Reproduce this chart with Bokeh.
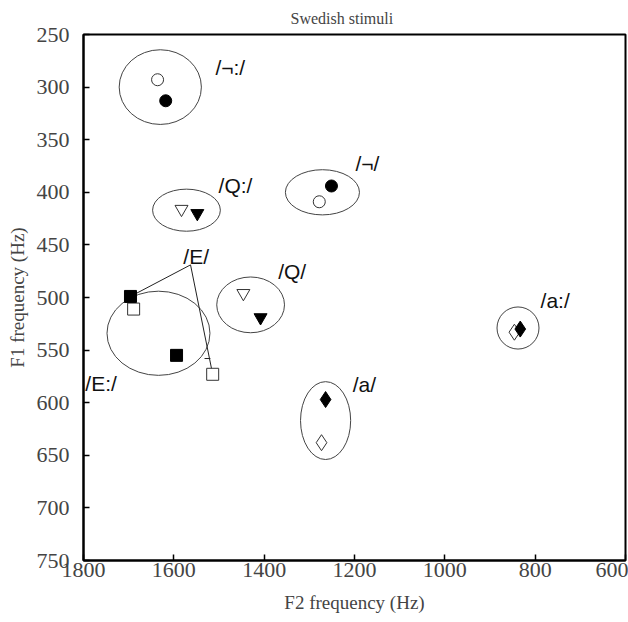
from bokeh.plotting import figure
from bokeh.models import Range1d, FixedTicker, ColumnDataSource
from bokeh.core.properties import value
from bokeh.embed import file_html
from bokeh.resources import INLINE

# ---- data (F2, F1 in Hz) ----
circ_open_f2 = [1636, 1278]
circ_open_f1 = [293, 409]
circ_fill_f2 = [1618, 1251]
circ_fill_f1 = [313, 394]

tri_open_f2 = [1583, 1446]
tri_open_f1 = [416, 496]
tri_fill_f2 = [1548, 1408]
tri_fill_f1 = [420, 519]

sq_open_f2 = [1689, 1514]
sq_open_f1 = [511, 573]
sq_fill_f2 = [1696, 1594]
sq_fill_f1 = [499, 555]

dia_open_f2 = [1273, 846]
dia_open_f1 = [638, 533]
dia_fill_f2 = [1264, 833]
dia_fill_f1 = [597, 530]

ell_f2 = [1630, 1572, 1271, 1430, 1634, 1264, 838]
ell_f1 = [300, 417, 400, 507, 534, 617, 529]
ell_w = [182, 150, 164, 150, 228, 111, 93]
ell_h = [71, 40, 43, 53, 80, 74, 40]

labels = ["/\u00ac:/", "/Q:/", "/\u00ac/", "/Q/", "/E/", "/E:/", "/a/", "/a:/"]
lab_f2 = [1508, 1501, 1198, 1369, 1579, 1796, 1204, 788]
lab_f1 = [281, 394, 373, 475, 461, 582, 583, 503]

# pointer lines for /E/
ptr_from = (1563, 469)
ptr_to_f2 = [1696, 1514]
ptr_to_f1 = [499, 573]
nick_f2 = [1532, 1519]
nick_f1 = [558, 558]

x_ticks = [1800, 1600, 1400, 1200, 1000, 800, 600]
y_ticks = [250, 300, 350, 400, 450, 500, 550, 600, 650, 700, 750]

p = figure(width=628, height=622, output_backend="svg", toolbar_location=None,
           x_range=Range1d(1800, 600), y_range=Range1d(750, 250),
           min_border_left=83, min_border_right=3, min_border_bottom=62, min_border_top=1)

p.title.text = "Swedish stimuli"
p.title.text_font = "Liberation Serif"
p.title.text_font_size = "16px"
p.title.text_font_style = "normal"
p.title.align = "left"
p.title.offset = 207
p.title.standoff = 15

p.xgrid.visible = False
p.ygrid.visible = False
p.outline_line_color = "black"
p.outline_line_width = 2

for ax, ticks, lab in ((p.xaxis[0], x_ticks, "F2 frequency (Hz)"), (p.yaxis[0], y_ticks, "F1 frequency (Hz)")):
    ax.ticker = FixedTicker(ticks=ticks)
    ax.axis_label = lab
    ax.axis_label_text_font = "Liberation Serif"
    ax.axis_label_text_font_size = "19px"
    ax.axis_label_text_font_style = "normal"
    ax.major_label_text_font = "Liberation Serif"
    ax.major_label_text_font_size = "22px"
    ax.major_tick_in = 6
    ax.major_tick_out = 0
    ax.minor_tick_in = 0
    ax.minor_tick_out = 0
    ax.axis_line_width = 2
    ax.major_tick_line_width = 1.5
p.yaxis[0].major_label_standoff = 14
p.xaxis[0].major_label_standoff = 2
p.yaxis[0].axis_label_standoff = 6
p.xaxis[0].axis_label_standoff = 12

# ellipses
p.ellipse(x=ell_f2, y=ell_f1, width=ell_w, height=ell_h,
          fill_color=None, line_color="#444444", line_width=1)

# pointer lines
for tx, ty in zip(ptr_to_f2, ptr_to_f1):
    p.line([ptr_from[0], tx], [ptr_from[1], ty], line_color="#222222", line_width=1)
p.line(nick_f2, nick_f1, line_color="#222222", line_width=1)

# markers
p.scatter(circ_open_f2, circ_open_f1, marker="circle", size=12, fill_color="white", line_color="#333333")
p.scatter(circ_fill_f2, circ_fill_f1, marker="circle", size=12, fill_color="black", line_color="black")
p.scatter(tri_open_f2, tri_open_f1, marker="inverted_triangle", size=13, fill_color="white", line_color="#333333")
p.scatter(tri_fill_f2, tri_fill_f1, marker="inverted_triangle", size=13, fill_color="black", line_color="black")
p.scatter(sq_open_f2, sq_open_f1, marker="square", size=12, fill_color="white", line_color="#333333")
p.scatter(sq_fill_f2, sq_fill_f1, marker="square", size=12, fill_color="black", line_color="black")
p.scatter(dia_open_f2, dia_open_f1, marker="diamond", size=16, fill_color="white", line_color="#333333")
p.scatter(dia_fill_f2, dia_fill_f1, marker="diamond", size=16, fill_color="black", line_color="black")

src = ColumnDataSource(dict(x=lab_f2, y=lab_f1, t=labels))
p.text(x="x", y="y", text="t", source=src, text_font=value("Liberation Sans"),
       text_font_size="21px", text_baseline="middle", text_align="left", text_color="#111111")

html = file_html(p, INLINE)
open("out.html", "w").write(html)
